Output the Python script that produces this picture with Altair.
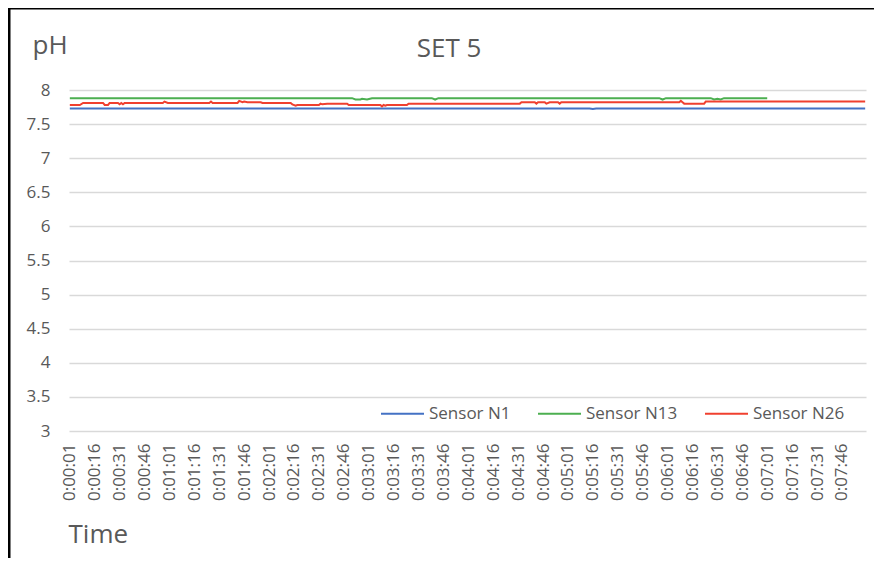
import altair as alt
import pandas as pd

# ---- data ----
chart_title = "SET 5"
series_names = ["Sensor N1", "Sensor N13", "Sensor N26"]
series_colors = ["#4472C4", "#4CAF50", "#F0402F"]

# time in seconds (0:00:01 = 1) and pH at the points where the trace changes
n1_t = [1, 314, 316, 318, 480]
n1_ph = [7.73, 7.73, 7.72, 7.73, 7.73]

n13_t = [1, 171, 173, 176, 177, 180, 183, 219, 221, 223, 356, 358, 360,
         387, 389, 391, 393, 395, 421]
n13_ph = [7.88, 7.88, 7.86, 7.86, 7.87, 7.86, 7.88, 7.88, 7.86, 7.88, 7.88, 7.86, 7.88,
          7.88, 7.86, 7.87, 7.86, 7.88, 7.88]

n26_t = [1, 7, 9, 21, 22, 24, 25, 30, 31, 32, 33, 34, 57, 58, 60, 85, 86, 87,
         102, 103, 105, 106, 108, 116, 117, 134, 135, 137, 138, 151, 152, 153, 156,
         168, 169, 188, 189, 190, 191, 192, 204, 205, 272, 273, 281, 282, 283, 287,
         288, 290, 295, 296, 297, 368, 369, 370, 371, 383, 384, 480]
n26_ph = [7.78, 7.78, 7.81, 7.81, 7.78, 7.78, 7.81, 7.81, 7.79, 7.81, 7.79, 7.81, 7.81, 7.83, 7.81, 7.81, 7.83, 7.81,
          7.81, 7.84, 7.82, 7.83, 7.82, 7.82, 7.81, 7.81, 7.79, 7.77, 7.78, 7.78, 7.80, 7.79, 7.80,
          7.80, 7.78, 7.78, 7.76, 7.78, 7.77, 7.78, 7.78, 7.80, 7.80, 7.82, 7.82, 7.80, 7.82, 7.82,
          7.80, 7.82, 7.82, 7.80, 7.82, 7.82, 7.84, 7.82, 7.80, 7.80, 7.83, 7.83]

x_tick_values = list(range(1, 467, 15))   # 0:00:01 ... 0:07:46
y_tick_values = [3, 3.5, 4, 4.5, 5, 5.5, 6, 6.5, 7, 7.5, 8]

rows = []
for name, ts, vs in [("Sensor N1", n1_t, n1_ph),
                     ("Sensor N13", n13_t, n13_ph),
                     ("Sensor N26", n26_t, n26_ph)]:
    for t, v in zip(ts, vs):
        rows.append({"t": t, "ph": v, "series": name})
df = pd.DataFrame(rows)

GRAY = "#595959"
FONT = "Open Sans"

lines = alt.Chart(df).mark_line(strokeWidth=2).encode(
    x=alt.X(
        "t:Q",
        scale=alt.Scale(domain=[0.5, 480.5], nice=False, zero=False),
        axis=alt.Axis(
            values=x_tick_values,
            labelExpr="'0:0' + floor(datum.value / 60) + ':' + (datum.value % 60 < 10 ? '0' : '') + (datum.value % 60)",
            labelAngle=-90,
            labelFontSize=17,
            labelColor=GRAY,
            labelPadding=12,
            labelOverlap=False,
            labelFlush=False,
            domain=False,
            ticks=False,
            grid=False,
            title="Time",
            titleFontSize=26,
            titleFontWeight="normal",
            titleColor=GRAY,
            titleAnchor="start",
            titleAlign="left",
            titleBaseline="alphabetic",
            titleX=-1,
            titleY=111,
        ),
    ),
    y=alt.Y(
        "ph:Q",
        scale=alt.Scale(domain=[3, 8], nice=False, zero=False),
        axis=alt.Axis(
            values=y_tick_values,
            format="~g",
            labelFontSize=17,
            labelColor=GRAY,
            labelPadding=19,
            domain=False,
            ticks=False,
            grid=True,
            gridColor="#d9d9d9",
            gridWidth=1.5,
            title="pH",
            titleAngle=0,
            titleFontSize=26,
            titleFontWeight="normal",
            titleColor=GRAY,
            titleAlign="left",
            titleBaseline="alphabetic",
            titleX=-37,
            titleY=-37,
        ),
    ),
    color=alt.Color(
        "series:N",
        scale=alt.Scale(domain=series_names, range=series_colors),
        legend=alt.Legend(
            orient="none",
            legendX=311,
            legendY=301,
            direction="horizontal",
            title=None,
            symbolType="stroke",
            symbolSize=1849,
            symbolStrokeWidth=2,
            labelFontSize=17,
            labelColor=GRAY,
            labelOffset=4,
            columnPadding=23,
            padding=0,
        ),
    ),
)

title_text = alt.Chart(alt.Data(values=[{"label": chart_title}])).mark_text(
    fontSize=26, color=GRAY, align="center", baseline="alphabetic", font=FONT
).encode(text="label:N", x=alt.value(380), y=alt.value(-33))

frame_left = alt.Chart(alt.Data(values=[{}])).mark_rule(color="black", strokeWidth=3).encode(
    x=alt.value(-60), y=alt.value(-83), y2=alt.value(480)
)
frame_top = alt.Chart(alt.Data(values=[{}])).mark_rule(color="black", strokeWidth=3).encode(
    x=alt.value(-61), x2=alt.value(806), y=alt.value(-82)
)

chart = alt.layer(lines, title_text, frame_left, frame_top).properties(
    width=797,
    height=341,
    padding={"left": 61, "top": 82, "right": 8, "bottom": 127},
    autosize=alt.AutoSizeParams(type="none"),
).configure(
    font=FONT,
).configure_view(
    stroke=None,
)

chart.save("out.html", embed_options={"renderer": "svg", "actions": False})
